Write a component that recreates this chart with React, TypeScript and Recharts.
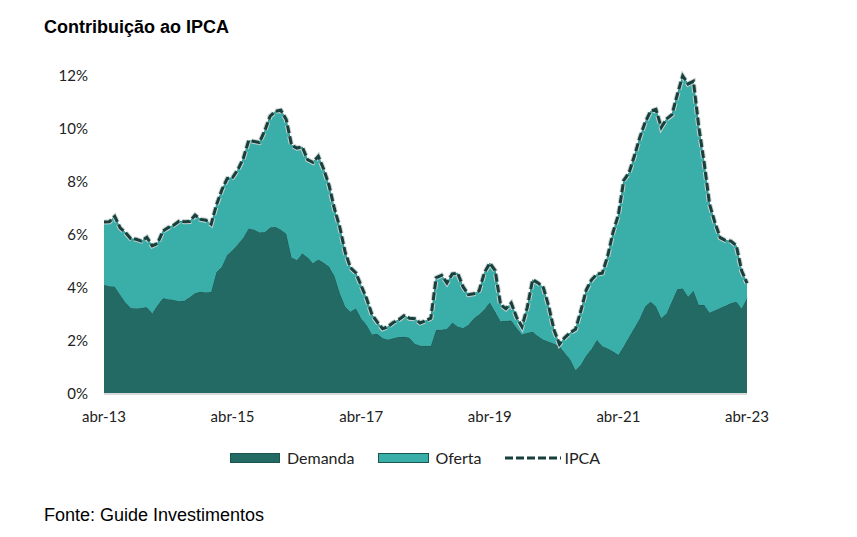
import React from "react";
import { ComposedChart, Area, Line, XAxis, YAxis } from "recharts";

const MESES = ["abr", "mai", "jun", "jul", "ago", "set", "out", "nov", "dez", "jan", "fev", "mar"];

const demanda = [
  4.11, 4.07, 4.05, 3.75, 3.45, 3.25, 3.23, 3.25, 3.27, 3.04, 3.35, 3.61,
  3.58, 3.55, 3.5, 3.52, 3.65, 3.8, 3.86, 3.83, 3.85, 4.6, 4.8, 5.25,
  5.43, 5.65, 5.9, 6.25, 6.2, 6.09, 6.1, 6.28, 6.3, 6.2, 6.05, 5.15,
  5.05, 5.3, 5.15, 4.93, 5.08, 4.95, 4.8, 4.45, 3.8, 3.3, 3.1, 3.23,
  2.85, 2.6, 2.25, 2.27, 2.1, 2.05, 2.1, 2.15, 2.16, 2.12, 1.9, 1.82,
  1.81, 1.81, 2.42, 2.42, 2.45, 2.69, 2.55, 2.48, 2.6, 2.85, 3.0, 3.2,
  3.45, 3.1, 2.75, 2.76, 2.77, 2.5, 2.25, 2.3, 2.35, 2.18, 2.05, 1.97,
  1.9, 1.8, 1.55, 1.3, 0.9, 1.1, 1.45, 1.7, 2.04, 1.8, 1.72, 1.6,
  1.47, 1.8, 2.15, 2.5, 2.85, 3.3, 3.48, 3.3, 2.86, 3.04, 3.5, 3.95,
  3.98, 3.67, 3.9, 3.36, 3.36, 3.07, 3.15, 3.25, 3.33, 3.42, 3.48, 3.23,
  3.61,
];

const oferta = [
  2.38, 2.43, 2.65, 2.52, 2.64, 2.61, 2.61, 2.52, 2.64, 2.55, 2.33, 2.54,
  2.7, 2.82, 3.02, 2.98, 2.86, 2.95, 2.73, 2.73, 2.56, 2.54, 2.9, 2.88,
  2.74, 2.82, 2.99, 3.31, 3.33, 3.4, 3.83, 4.2, 4.37, 4.51, 4.31, 4.24,
  4.23, 4.02, 3.69, 3.81, 3.89, 3.53, 3.07, 2.54, 2.49, 2.05, 1.66, 1.34,
  1.23, 1.0, 0.75, 0.44, 0.36, 0.49, 0.6, 0.65, 0.79, 0.74, 0.94, 0.86,
  0.95, 1.05, 1.97, 2.06, 1.74, 1.84, 2.01, 1.57, 1.15, 0.93, 0.89, 1.38,
  1.49, 1.56, 0.62, 0.46, 0.66, 0.39, 0.29, 0.97, 1.96, 2.01, 1.96, 1.33,
  0.5, 0.08, 0.58, 1.01, 1.54, 2.04, 2.47, 2.61, 2.48, 2.76, 3.48, 4.5,
  5.29, 6.26, 6.2, 6.49, 6.83, 6.95, 7.19, 7.44, 7.2, 7.34, 7.04, 7.35,
  8.02, 8.03, 7.9, 6.71, 5.37, 4.1, 3.32, 2.65, 2.46, 2.35, 2.12, 1.42,
  0.57,
];

const ipca = [
  6.49, 6.5, 6.7, 6.27, 6.09, 5.86, 5.84, 5.77, 5.91, 5.59, 5.68, 6.15,
  6.28, 6.37, 6.52, 6.5, 6.51, 6.75, 6.59, 6.56, 6.41, 7.14, 7.7, 8.13,
  8.17, 8.47, 8.89, 9.56, 9.53, 9.49, 9.93, 10.48, 10.67, 10.71, 10.36, 9.39,
  9.28, 9.32, 8.84, 8.74, 8.97, 8.48, 7.87, 6.99, 6.29, 5.35, 4.76, 4.57,
  4.08, 3.6, 3.0, 2.71, 2.46, 2.54, 2.7, 2.8, 2.95, 2.86, 2.84, 2.68,
  2.76, 2.86, 4.39, 4.48, 4.19, 4.53, 4.56, 4.05, 3.75, 3.78, 3.89, 4.58,
  4.94, 4.66, 3.37, 3.22, 3.43, 2.89, 2.54, 3.27, 4.31, 4.19, 4.01, 3.3,
  2.4, 1.88, 2.13, 2.31, 2.44, 3.14, 3.92, 4.31, 4.52, 4.56, 5.2, 6.1,
  6.76, 8.06, 8.35, 8.99, 9.68, 10.25, 10.67, 10.74, 10.06, 10.38, 10.54, 11.3,
  12.0, 11.7, 11.8, 10.07, 8.73, 7.17, 6.47, 5.9, 5.79, 5.77, 5.6, 4.65,
  4.18,
];

const yTicks = [0, 2, 4, 6, 8, 10, 12];
const START_YEAR = 13;

const data = demanda.map((d, i) => {
  const year = START_YEAR + Math.floor((i + 3) / 12);
  return {
    mes: `${MESES[i % 12]}-${year}`,
    demanda: d,
    oferta: oferta[i],
    ipca: ipca[i],
  };
});

const C_DEM = "#236a65";
const C_OF = "#3aafaa";
const C_IPCA = "#17403c";
const AXIS_FONT = "Lato, 'Noto Sans', sans-serif";

export default function App() {
  return (
    <div
      style={{
        position: "absolute",
        left: 0,
        top: 0,
        width: 857,
        height: 537,
        background: "#fff",
        overflow: "hidden",
      }}
    >
      <div
        style={{
          position: "absolute",
          left: 44,
          top: 17,
          fontFamily: "'Liberation Sans', Arial, sans-serif",
          fontWeight: 700,
          fontSize: 18,
          color: "#000",
        }}
      >
        Contribuição ao IPCA
      </div>
      <div style={{ position: "absolute", left: 0, top: 0 }}>
        <ComposedChart
          width={857}
          height={537}
          data={data}
          margin={{ top: 76, right: 110, bottom: 113, left: 44 }}
        >
          <XAxis
            dataKey="mes"
            interval={23}
            height={30}
            tickLine={false}
            axisLine={{ stroke: "#d9d9d9", strokeWidth: 2 }}
            tickMargin={11}
            tick={{ fill: "#222", fontSize: 15, fontFamily: AXIS_FONT }}
          />
          <YAxis
            width={60}
            domain={[0, 12]}
            ticks={yTicks}
            tickFormatter={(v) => `${v}%`}
            tickLine={false}
            axisLine={false}
            tickMargin={10}
            tick={{ fill: "#222", fontSize: 15, fontFamily: AXIS_FONT }}
          />
          <Area
            type="linear"
            dataKey="demanda"
            stackId="1"
            fill={C_DEM}
            fillOpacity={1}
            stroke="#1b5550"
            strokeWidth={1}
            isAnimationActive={false}
          />
          <Area
            type="linear"
            dataKey="oferta"
            stackId="1"
            fill={C_OF}
            fillOpacity={1}
            stroke="#2e8f8a"
            strokeWidth={1}
            isAnimationActive={false}
          />
          <Line
            type="linear"
            dataKey="ipca"
            stroke="#c9d2d1"
            strokeWidth={5}
            strokeDasharray="8 3"
            dot={false}
            activeDot={false}
            isAnimationActive={false}
          />
          <Line
            type="linear"
            dataKey="ipca"
            stroke={C_IPCA}
            strokeWidth={3}
            strokeDasharray="8 3"
            dot={false}
            activeDot={false}
            isAnimationActive={false}
          />
        </ComposedChart>
      </div>
      <div
        style={{
          position: "absolute",
          left: 230,
          top: 448,
          display: "flex",
          alignItems: "center",
          fontFamily: AXIS_FONT,
          fontSize: 16,
          color: "#222",
        }}
      >
        <span style={{ display: "inline-block", width: 50, height: 10, background: C_DEM, border: "1px solid #1b5550", boxSizing: "border-box", marginRight: 7 }} />
        <span style={{ marginRight: 24 }}>Demanda</span>
        <span style={{ display: "inline-block", width: 51, height: 10, background: C_OF, border: "1px solid #1b5550", boxSizing: "border-box", marginRight: 6 }} />
        <span style={{ marginRight: 23 }}>Oferta</span>
        <svg width={56} height={10} style={{ marginRight: 4 }}>
          <line x1={0} y1={5} x2={56} y2={5} stroke={C_IPCA} strokeWidth={3} strokeDasharray="8 3" />
        </svg>
        <span>IPCA</span>
      </div>
      <div
        style={{
          position: "absolute",
          left: 44,
          top: 505,
          fontFamily: "'Liberation Sans', Arial, sans-serif",
          fontSize: 18,
          color: "#000",
        }}
      >
        Fonte: Guide Investimentos
      </div>
    </div>
  );
}
